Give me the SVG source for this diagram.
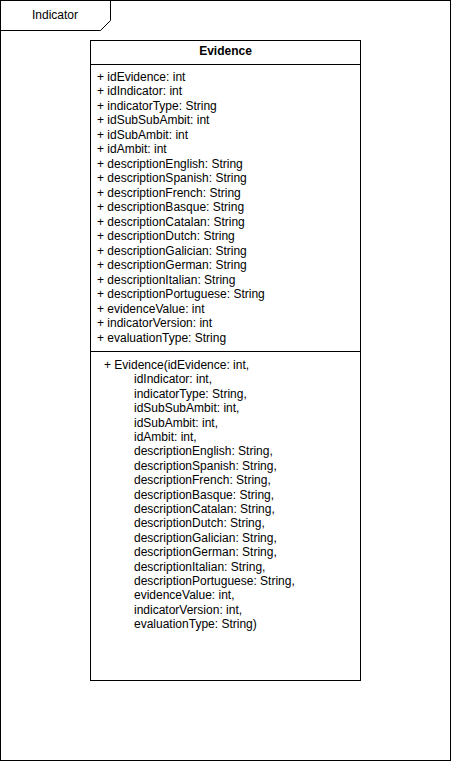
<svg xmlns="http://www.w3.org/2000/svg" width="451" height="761" viewBox="0 0 451 761">
<style>
.ln{fill:none;stroke:#000;stroke-width:1}
.t{font-family:"Liberation Sans",Arial,sans-serif;font-size:12px;fill:#000}
.b{font-weight:bold;text-anchor:middle}
</style>
<rect width="451" height="761" fill="#fff"/>
<g id="package-Indicator">
<rect class="ln" x="0.5" y="0.5" width="450" height="760"/>
<path class="ln" d="M0.5,30.5 H100.5 L110.5,20.5 V0.5"/>
<text class="t" x="55" y="19" text-anchor="middle">Indicator</text>
</g>
<g id="class-Evidence">
<rect class="ln" x="90.5" y="40.5" width="270" height="640" fill="#fff"/>
<line class="ln" x1="90.5" y1="64.5" x2="360.5" y2="64.5"/>
<line class="ln" x1="90.5" y1="351.5" x2="360.5" y2="351.5"/>
<text class="t b" x="225.5" y="55">Evidence</text>
<text class="t" x="97">
<tspan x="97" y="80.5">+ idEvidence: int</tspan>
<tspan x="97" dy="14.5">+ idIndicator: int</tspan>
<tspan x="97" dy="14.5">+ indicatorType: String</tspan>
<tspan x="97" dy="14.5">+ idSubSubAmbit: int</tspan>
<tspan x="97" dy="14.5">+ idSubAmbit: int</tspan>
<tspan x="97" dy="14.5">+ idAmbit: int</tspan>
<tspan x="97" dy="14.5">+ descriptionEnglish: String</tspan>
<tspan x="97" dy="14.5">+ descriptionSpanish: String</tspan>
<tspan x="97" dy="14.5">+ descriptionFrench: String</tspan>
<tspan x="97" dy="14.5">+ descriptionBasque: String</tspan>
<tspan x="97" dy="14.5">+ descriptionCatalan: String</tspan>
<tspan x="97" dy="14.5">+ descriptionDutch: String</tspan>
<tspan x="97" dy="14.5">+ descriptionGalician: String</tspan>
<tspan x="97" dy="14.5">+ descriptionGerman: String</tspan>
<tspan x="97" dy="14.5">+ descriptionItalian: String</tspan>
<tspan x="97" dy="14.5">+ descriptionPortuguese: String</tspan>
<tspan x="97" dy="14.5">+ evidenceValue: int</tspan>
<tspan x="97" dy="14.5">+ indicatorVersion: int</tspan>
<tspan x="97" dy="14.5">+ evaluationType: String</tspan>
</text>
<text class="t">
<tspan x="104" y="369">+ Evidence(idEvidence: int,</tspan>
<tspan x="134" dy="14.4">idIndicator: int,</tspan>
<tspan x="134" dy="14.4">indicatorType: String,</tspan>
<tspan x="134" dy="14.4">idSubSubAmbit: int,</tspan>
<tspan x="134" dy="14.4">idSubAmbit: int,</tspan>
<tspan x="134" dy="14.4">idAmbit: int,</tspan>
<tspan x="134" dy="14.4">descriptionEnglish: String,</tspan>
<tspan x="134" dy="14.4">descriptionSpanish: String,</tspan>
<tspan x="134" dy="14.4">descriptionFrench: String,</tspan>
<tspan x="134" dy="14.4">descriptionBasque: String,</tspan>
<tspan x="134" dy="14.4">descriptionCatalan: String,</tspan>
<tspan x="134" dy="14.4">descriptionDutch: String,</tspan>
<tspan x="134" dy="14.4">descriptionGalician: String,</tspan>
<tspan x="134" dy="14.4">descriptionGerman: String,</tspan>
<tspan x="134" dy="14.4">descriptionItalian: String,</tspan>
<tspan x="134" dy="14.4">descriptionPortuguese: String,</tspan>
<tspan x="134" dy="14.4">evidenceValue: int,</tspan>
<tspan x="134" dy="14.4">indicatorVersion: int,</tspan>
<tspan x="134" dy="14.4">evaluationType: String)</tspan>
</text>
</g>
<g id="connectors"></g>
</svg>
